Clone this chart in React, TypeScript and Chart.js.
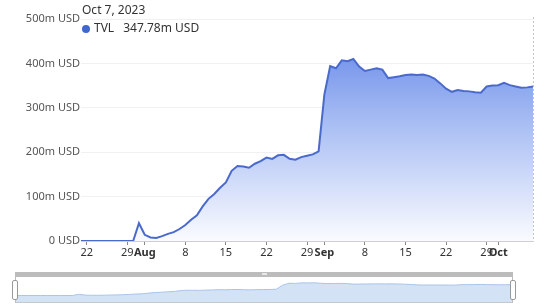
import React, { useEffect, useRef } from "react";
import { Chart, registerables } from "chart.js";

Chart.register(...registerables);

// Daily TVL, Jul 21 – Oct 7, 2023 (millions of USD)
const startDate = "2023-07-21";
const tvl: number[] = [
  0, 0, 0, 0, 0, 0, 0, 0, 0, 0,
  40, 14, 8, 7, 11, 16, 20, 27, 36, 48,
  58, 78, 95, 106, 120, 132, 158, 169, 168, 165,
  174, 180, 188, 185, 193, 194, 185, 183, 189, 192,
  195, 202, 330, 394, 389, 407, 405, 410, 393, 383,
  386, 389, 386, 367, 369, 371, 374, 375, 374, 375,
  372, 366, 355, 343, 336, 340, 338, 337, 335, 334,
  348, 350, 351, 356, 351, 348, 345, 346, 347.78,
];

const monthNames = ["Jan", "Feb", "Mar", "Apr", "May", "Jun", "Jul", "Aug", "Sep", "Oct", "Nov", "Dec"];
// Days of the month that get an axis label (the 1st shows the month name)
const tickDays = [1, 8, 15, 22, 29];
const yTicks = [0, 100, 200, 300, 400, 500];

const seriesName = "TVL";
const headerDate = "Oct 7, 2023";
const headerValue = "347.78m USD";

const FONT = "'Noto Sans', 'DejaVu Sans', sans-serif";

const dates: Date[] = tvl.map((_, i) => {
  const d = new Date(startDate + "T00:00:00");
  d.setDate(d.getDate() + i);
  return d;
});
const labels = dates.map((d) => `${monthNames[d.getMonth()]} ${d.getDate()}`);

function tickText(i: number): string | null {
  const d = dates[i];
  if (!d) return null;
  const day = d.getDate();
  if (!tickDays.includes(day)) return null;
  return day === 1 ? monthNames[d.getMonth()] : String(day);
}

const crosshair = {
  id: "crosshair",
  afterDatasetsDraw(chart: any) {
    const meta = chart.getDatasetMeta(0);
    const pt = meta.data[meta.data.length - 1];
    if (!pt) return;
    const { ctx, chartArea } = chart;
    ctx.save();
    ctx.strokeStyle = "#c4c4c4";
    ctx.lineWidth = 1;
    ctx.setLineDash([2, 2]);
    ctx.beginPath();
    const x = Math.round(pt.x) + 0.5;
    ctx.moveTo(x, chartArea.top - 2);
    ctx.lineTo(x, chartArea.bottom);
    ctx.stroke();
    ctx.restore();
  },
};

export default function App() {
  const mainRef = useRef<HTMLCanvasElement | null>(null);
  const miniRef = useRef<HTMLCanvasElement | null>(null);

  useEffect(() => {
    document.body.style.margin = "0";
    const main = new Chart(mainRef.current as HTMLCanvasElement, {
      type: "line",
      data: {
        labels,
        datasets: [
          {
            label: seriesName,
            data: tvl,
            borderColor: "#4a6acb",
            borderWidth: 2,
            pointRadius: 0,
            tension: 0,
            fill: "origin",
            backgroundColor: (ctx: any) => {
              const { chart } = ctx;
              const area = chart.chartArea;
              if (!area) return "rgba(120,150,235,0.5)";
              const g = chart.ctx.createLinearGradient(0, area.top, 0, area.bottom);
              g.addColorStop(0, "rgb(92,128,231)");
              g.addColorStop(0.45, "rgb(165,187,243)");
              g.addColorStop(1, "rgb(250,251,255)");
              return g;
            },
          },
        ],
      },
      options: {
        responsive: false,
        animation: false,
        layout: { padding: { top: 19, right: 13, left: 0, bottom: 0 } },
        plugins: { legend: { display: false }, tooltip: { enabled: false } },
        scales: {
          x: {
            type: "category",
            grid: { drawOnChartArea: false, drawTicks: true, tickLength: 4, tickColor: "#888" },
            border: { display: true, color: "#cfcfcf" },
            ticks: {
              autoSkip: false,
              maxRotation: 0,
              padding: 1,
              color: "#333",
              callback: (v: any) => tickText(Number(v)),
              font: (ctx: any) => {
                const i = ctx.tick ? Number(ctx.tick.value) : -1;
                const d = dates[i];
                const isMonth = d && d.getDate() === 1;
                return { family: FONT, size: 11, weight: isMonth ? "bold" : "normal" };
              },
            },
            afterFit: (s: any) => {
              s.height = 24;
            },
          },
          y: {
            min: yTicks[0],
            max: yTicks[yTicks.length - 1],
            afterBuildTicks: (s: any) => {
              s.ticks = yTicks.map((v) => ({ value: v }));
            },
            grid: { color: "#f1f1f1", drawTicks: false },
            border: { display: false },
            ticks: {
              padding: 1,
              color: "#555",
              font: { family: FONT, size: 11 },
              callback: (v: any) => (Number(v) === 0 ? "0 USD" : `${v}m USD`),
            },
            afterFit: (s: any) => {
              s.width = 81;
            },
          },
        },
      },
      plugins: [crosshair],
    } as any);

    const mini = new Chart(miniRef.current as HTMLCanvasElement, {
      type: "line",
      data: {
        labels,
        datasets: [
          {
            data: tvl,
            borderColor: "rgb(170,196,232)",
            borderWidth: 1,
            pointRadius: 0,
            tension: 0,
            fill: "start",
            backgroundColor: "rgb(212,226,246)",
          },
        ],
      },
      options: {
        responsive: false,
        animation: false,
        layout: { padding: 0 },
        plugins: { legend: { display: false }, tooltip: { enabled: false } },
        scales: {
          x: { display: false },
          y: { display: false, min: -240, max: 595 },
        },
      },
    } as any);

    return () => {
      main.destroy();
      mini.destroy();
    };
  }, []);

  const handle = (left: number): React.CSSProperties => ({
    position: "absolute",
    left,
    top: 280,
    width: 4,
    height: 18,
    background: "#fff",
    border: "1px solid #9a9a9a",
    borderRadius: 2,
  });

  return (
    <div
      style={{
        position: "fixed",
        left: 0,
        top: 0,
        width: 546,
        height: 308,
        background: "#fff",
        overflow: "hidden",
        fontFamily: FONT,
      }}
    >
      <canvas ref={mainRef} width={546} height={265} style={{ position: "absolute", left: 0, top: 0, width: 546, height: 265 }} />
      <div style={{ position: "absolute", left: 82, top: 2, fontSize: 12, color: "#333", lineHeight: "16px" }}>{headerDate}</div>
      <div style={{ position: "absolute", left: 82, top: 25, width: 8, height: 8, borderRadius: "50%", background: "#3f66d2" }} />
      <div style={{ position: "absolute", left: 94, top: 20, fontSize: 12, color: "#333", lineHeight: "16px", whiteSpace: "pre" }}>
        {seriesName}
        <span style={{ marginLeft: 9 }}>{headerValue}</span>
      </div>

      {/* range slider */}
      <div style={{ position: "absolute", left: 15, top: 272, width: 498, height: 5, background: "#bcbcbc" }} />
      <div style={{ position: "absolute", left: 262, top: 273, width: 5, height: 2, background: "#e8e8e8" }} />
      <canvas ref={miniRef} width={497} height={26} style={{ position: "absolute", left: 15, top: 277, width: 497, height: 26 }} />
      <div style={{ position: "absolute", left: 15, top: 277, width: 496, height: 25, borderLeft: "1px solid #bbb", borderRight: "1px solid #bbb", borderBottom: "1px solid #c8c8c8" }} />
      <div style={handle(12)} />
      <div style={handle(510)} />
    </div>
  );
}
